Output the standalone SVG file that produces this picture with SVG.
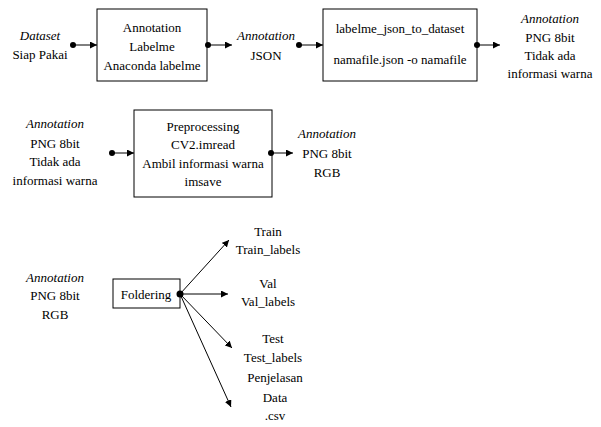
<svg xmlns="http://www.w3.org/2000/svg" width="601" height="427" viewBox="0 0 601 427">
<defs>
<marker id="ah" viewBox="0 0 10 10" refX="10" refY="5" markerWidth="7" markerHeight="7" markerUnits="userSpaceOnUse" orient="auto">
<path d="M0,0 L10,5 L0,10 z" fill="#000"/>
</marker>
</defs>
<rect width="601" height="427" fill="#fff"/>
<g id="t-dataset">
<text x="40" y="40" font-family="Liberation Serif" font-size="13" text-anchor="middle" font-style="italic">Dataset</text>
<text x="40" y="59" font-family="Liberation Serif" font-size="13" text-anchor="middle">Siap Pakai</text>
</g>
<g id="n-labelme">
<rect x="97" y="9" width="110" height="72" fill="#fff" stroke="#000"/>
<text x="152" y="32" font-family="Liberation Serif" font-size="13" text-anchor="middle">Annotation</text>
<text x="152" y="51" font-family="Liberation Serif" font-size="13" text-anchor="middle">Labelme</text>
<text x="152" y="70" font-family="Liberation Serif" font-size="13" text-anchor="middle">Anaconda labelme</text>
</g>
<g id="t-json">
<text x="266" y="40" font-family="Liberation Serif" font-size="13" text-anchor="middle" font-style="italic">Annotation</text>
<text x="266" y="60" font-family="Liberation Serif" font-size="13" text-anchor="middle">JSON</text>
</g>
<g id="n-convert">
<rect x="323" y="9" width="154" height="72" fill="#fff" stroke="#000"/>
<text x="400" y="33" font-family="Liberation Serif" font-size="13" text-anchor="middle">labelme_json_to_dataset</text>
<text x="400" y="64" font-family="Liberation Serif" font-size="13" text-anchor="middle">namafile.json -o namafile</text>
</g>
<g id="t-png1">
<text x="550" y="23" font-family="Liberation Serif" font-size="13" text-anchor="middle" font-style="italic">Annotation</text>
<text x="550" y="42" font-family="Liberation Serif" font-size="13" text-anchor="middle">PNG 8bit</text>
<text x="550" y="60" font-family="Liberation Serif" font-size="13" text-anchor="middle">Tidak ada</text>
<text x="550" y="78" font-family="Liberation Serif" font-size="13" text-anchor="middle">informasi warna</text>
</g>
<g id="t-png2">
<text x="55" y="128" font-family="Liberation Serif" font-size="13" text-anchor="middle" font-style="italic">Annotation</text>
<text x="55" y="148" font-family="Liberation Serif" font-size="13" text-anchor="middle">PNG 8bit</text>
<text x="55" y="166" font-family="Liberation Serif" font-size="13" text-anchor="middle">Tidak ada</text>
<text x="55" y="185" font-family="Liberation Serif" font-size="13" text-anchor="middle">informasi warna</text>
</g>
<g id="n-preprocessing">
<rect x="134" y="110" width="138" height="87" fill="#fff" stroke="#000"/>
<text x="203" y="131" font-family="Liberation Serif" font-size="13" text-anchor="middle">Preprocessing</text>
<text x="203" y="149" font-family="Liberation Serif" font-size="13" text-anchor="middle">CV2.imread</text>
<text x="203" y="168" font-family="Liberation Serif" font-size="13" text-anchor="middle">Ambil informasi warna</text>
<text x="203" y="186" font-family="Liberation Serif" font-size="13" text-anchor="middle">imsave</text>
</g>
<g id="t-rgb1">
<text x="327" y="138" font-family="Liberation Serif" font-size="13" text-anchor="middle" font-style="italic">Annotation</text>
<text x="327" y="158" font-family="Liberation Serif" font-size="13" text-anchor="middle">PNG 8bit</text>
<text x="327" y="177" font-family="Liberation Serif" font-size="13" text-anchor="middle">RGB</text>
</g>
<g id="t-rgb2">
<text x="55" y="282" font-family="Liberation Serif" font-size="13" text-anchor="middle" font-style="italic">Annotation</text>
<text x="55" y="300" font-family="Liberation Serif" font-size="13" text-anchor="middle">PNG 8bit</text>
<text x="55" y="319" font-family="Liberation Serif" font-size="13" text-anchor="middle">RGB</text>
</g>
<g id="n-foldering">
<rect x="113" y="279" width="67" height="29" fill="#fff" stroke="#000"/>
<text x="146" y="299" font-family="Liberation Serif" font-size="13" text-anchor="middle">Foldering</text>
</g>
<g id="t-train">
<text x="268" y="236" font-family="Liberation Serif" font-size="13" text-anchor="middle">Train</text>
<text x="268" y="254" font-family="Liberation Serif" font-size="13" text-anchor="middle">Train_labels</text>
</g>
<g id="t-val">
<text x="268" y="288" font-family="Liberation Serif" font-size="13" text-anchor="middle">Val</text>
<text x="268" y="306" font-family="Liberation Serif" font-size="13" text-anchor="middle">Val_labels</text>
</g>
<g id="t-test">
<text x="273" y="343" font-family="Liberation Serif" font-size="13" text-anchor="middle">Test</text>
<text x="273" y="362" font-family="Liberation Serif" font-size="13" text-anchor="middle">Test_labels</text>
</g>
<g id="t-data">
<text x="275" y="382" font-family="Liberation Serif" font-size="13" text-anchor="middle">Penjelasan</text>
<text x="275" y="402" font-family="Liberation Serif" font-size="13" text-anchor="middle">Data</text>
<text x="275" y="420" font-family="Liberation Serif" font-size="13" text-anchor="middle">.csv</text>
</g>
<g id="connectors" stroke="#000" stroke-width="1">
<circle cx="73" cy="45" r="3" fill="#000" stroke="none"/>
<line x1="73" y1="45" x2="97" y2="45" marker-end="url(#ah)"/>
<circle cx="208" cy="45" r="3" fill="#000" stroke="none"/>
<line x1="208" y1="45" x2="232" y2="45" marker-end="url(#ah)"/>
<circle cx="299" cy="45" r="3" fill="#000" stroke="none"/>
<line x1="299" y1="45" x2="323" y2="45" marker-end="url(#ah)"/>
<circle cx="477" cy="45" r="3" fill="#000" stroke="none"/>
<line x1="477" y1="45" x2="500" y2="45" marker-end="url(#ah)"/>
<circle cx="112" cy="153" r="3" fill="#000" stroke="none"/>
<line x1="112" y1="153" x2="134" y2="153" marker-end="url(#ah)"/>
<circle cx="271" cy="153" r="3" fill="#000" stroke="none"/>
<line x1="271" y1="153" x2="293" y2="153" marker-end="url(#ah)"/>
<circle cx="180" cy="294" r="3.5" fill="#000" stroke="none"/>
<line x1="180" y1="294" x2="229" y2="240" marker-end="url(#ah)"/>
<line x1="180" y1="294" x2="228" y2="294" marker-end="url(#ah)"/>
<line x1="180" y1="294" x2="232" y2="348" marker-end="url(#ah)"/>
<line x1="180" y1="294" x2="231" y2="407" marker-end="url(#ah)"/>
</g>
</svg>
